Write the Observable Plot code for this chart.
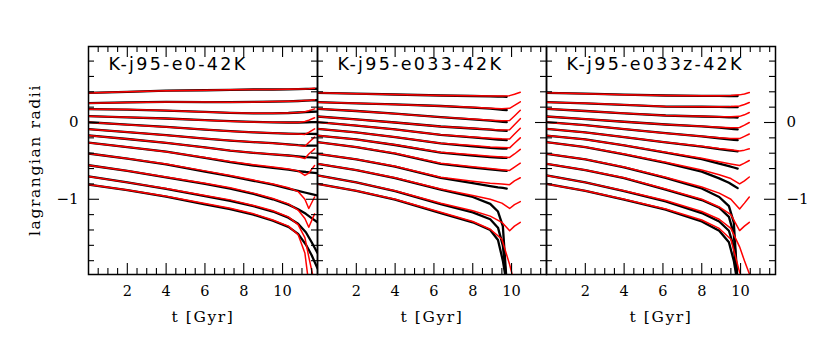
<!DOCTYPE html>
<html><head><meta charset="utf-8">
<script src="https://cdn.jsdelivr.net/npm/d3@7"></script>
<script src="https://cdn.jsdelivr.net/npm/@observablehq/plot@0.6"></script>
<style>
body{margin:0;background:#fff;}
#chart{position:relative;width:817px;height:362px;background:#fff;overflow:hidden;}
#chart svg{position:absolute;left:0;top:0;}
g[font-size="17.5"] text{letter-spacing:2.3px;}
g[font-size="15.5"] text{letter-spacing:1.6px;}
</style></head><body><div id="chart"></div>
<script>
// ---- text ----
const titles = ["K-j95-e0-42K", "K-j95-e033-42K", "K-j95-e033z-42K"];
const xTickLabels = [2, 4, 6, 8, 10];
const yTickLabels = [0, -1];
const xLabel = "t [Gyr]";
const yLabel = "lagrangian radii";

// ---- panel 1 : K-j95-e0-42K (log r) ----
const tBlack1 = [0, 2, 4, 6, 7.3, 8.5, 9.5, 10.3, 10.8, 11.2, 11.5, 11.8];
const black1 = [
  [0.385, 0.40, 0.415, 0.42, 0.426, 0.43, 0.43, 0.432, 0.435, 0.437, 0.438, 0.44],
  [0.252, 0.262, 0.268, 0.266, 0.265, 0.268, 0.272, 0.276, 0.28, 0.284, 0.287, 0.29],
  [0.173, 0.168, 0.155, 0.138, 0.126, 0.12, 0.12, 0.124, 0.13, 0.135, 0.14, 0.143],
  [0.082, 0.068, 0.052, 0.03, 0.017, 0.008, 0.002, 0.0, 0.0, 0.002, 0.004, 0.006],
  [0.003, -0.028, -0.058, -0.092, -0.113, -0.128, -0.138, -0.145, -0.148, -0.148, -0.148, -0.15],
  [-0.087, -0.125, -0.165, -0.21, -0.235, -0.255, -0.27, -0.285, -0.295, -0.3, -0.3, -0.3],
  [-0.169, -0.215, -0.265, -0.325, -0.365, -0.395, -0.415, -0.43, -0.44, -0.45, -0.455, -0.46],
  [-0.263, -0.32, -0.38, -0.46, -0.515, -0.56, -0.59, -0.615, -0.632, -0.645, -0.652, -0.66],
  [-0.404, -0.47, -0.545, -0.64, -0.7, -0.76, -0.81, -0.86, -0.89, -0.915, -0.932, -0.95],
  [-0.557, -0.63, -0.715, -0.8, -0.862, -0.93, -1.0, -1.07, -1.13, -1.19, -1.245, -1.30],
  [-0.702, -0.78, -0.865, -0.96, -1.02, -1.09, -1.16, -1.24, -1.32, -1.43, -1.56, -1.70],
  [-0.808, -0.88, -0.965, -1.065, -1.128, -1.2, -1.28, -1.36, -1.45, -1.59, -1.73, -1.90]
];
const tRed1 = [0, 2, 4, 6, 7.3, 8.5, 9.5, 10.3, 10.8, 11.15, 11.35, 11.65];
const red1 = [
  [0.385, 0.40, 0.415, 0.42, 0.426, 0.43, 0.43, 0.433, 0.436, 0.438, 0.44, 0.445],
  [0.252, 0.262, 0.268, 0.266, 0.265, 0.268, 0.272, 0.277, 0.281, 0.285, 0.288, 0.295],
  [0.173, 0.168, 0.155, 0.138, 0.126, 0.12, 0.12, 0.125, 0.13, 0.14, 0.152, 0.178],
  [0.082, 0.068, 0.052, 0.03, 0.017, 0.008, 0.002, 0.0, 0.0, 0.012, 0.03, 0.061],
  [0.003, -0.028, -0.058, -0.092, -0.113, -0.128, -0.138, -0.145, -0.15, -0.155, -0.13, -0.083],
  [-0.087, -0.125, -0.165, -0.21, -0.235, -0.255, -0.27, -0.285, -0.298, -0.31, -0.26, -0.19],
  [-0.169, -0.215, -0.265, -0.325, -0.365, -0.395, -0.415, -0.43, -0.445, -0.47, -0.41, -0.343],
  [-0.263, -0.32, -0.38, -0.455, -0.508, -0.55, -0.58, -0.605, -0.63, -0.69, -0.66, -0.56],
  [-0.404, -0.47, -0.54, -0.63, -0.691, -0.75, -0.8, -0.85, -0.9, -1.0, -1.12, -0.97],
  [-0.557, -0.63, -0.71, -0.79, -0.851, -0.92, -0.99, -1.06, -1.14, -1.25, -1.365, -1.19],
  [-0.702, -0.78, -0.86, -0.95, -1.008, -1.08, -1.15, -1.23, -1.33, -1.5, -1.75, -2.1],
  [-0.808, -0.88, -0.96, -1.055, -1.117, -1.19, -1.27, -1.35, -1.46, -1.7, -2.1, -2.2]
];

// ---- panel 2 : K-j95-e033-42K ----
const tBlack2 = [0, 2, 4, 6.35, 8, 8.9, 9.3, 9.55, 9.75];
const black2 = [
  [0.387, 0.375, 0.365, 0.352, 0.345, 0.34, 0.338, 0.336, 0.335],
  [0.265, 0.25, 0.235, 0.215, 0.195, 0.18, 0.172, 0.166, 0.16],
  [0.178, 0.15, 0.115, 0.07, 0.042, 0.025, 0.016, 0.009, 0.004],
  [0.078, 0.04, 0.0, -0.052, -0.078, -0.094, -0.102, -0.107, -0.11],
  [0.004, -0.04, -0.09, -0.161, -0.195, -0.213, -0.222, -0.227, -0.23],
  [-0.082, -0.13, -0.19, -0.272, -0.31, -0.33, -0.336, -0.339, -0.34],
  [-0.17, -0.22, -0.293, -0.393, -0.432, -0.45, -0.456, -0.459, -0.46],
  [-0.257, -0.32, -0.405, -0.538, -0.588, -0.61, -0.62, -0.626, -0.63],
  [-0.408, -0.48, -0.575, -0.722, -0.79, -0.828, -0.845, -0.853, -0.86],
  [-0.538, -0.62, -0.725, -0.875, -0.97, -1.06, -1.16, -1.35, -2.1],
  [-0.69, -0.78, -0.895, -1.062, -1.17, -1.26, -1.37, -1.6, -2.1],
  [-0.80, -0.89, -1.005, -1.18, -1.3, -1.4, -1.53, -1.8, -2.1]
];
const tRed2 = [0, 2, 4, 6.35, 8, 8.9, 9.5, 9.9, 10.15, 10.45];
const red2 = [
  [0.387, 0.375, 0.365, 0.352, 0.347, 0.345, 0.345, 0.35, 0.368, 0.395],
  [0.265, 0.25, 0.235, 0.215, 0.198, 0.187, 0.18, 0.185, 0.222, 0.27],
  [0.178, 0.15, 0.115, 0.07, 0.045, 0.03, 0.022, 0.025, 0.085, 0.16],
  [0.078, 0.04, 0.0, -0.052, -0.075, -0.09, -0.097, -0.095, -0.03, 0.05],
  [0.004, -0.04, -0.09, -0.161, -0.19, -0.205, -0.213, -0.215, -0.15, -0.075],
  [-0.082, -0.13, -0.19, -0.269, -0.3, -0.318, -0.326, -0.33, -0.27, -0.2],
  [-0.17, -0.22, -0.29, -0.387, -0.42, -0.44, -0.45, -0.455, -0.41, -0.35],
  [-0.257, -0.32, -0.40, -0.53, -0.575, -0.6, -0.615, -0.625, -0.58, -0.53],
  [-0.408, -0.48, -0.57, -0.713, -0.765, -0.79, -0.8, -0.81, -0.76, -0.72],
  [-0.538, -0.62, -0.72, -0.865, -0.95, -1.0, -1.05, -1.12, -1.07, -1.03],
  [-0.69, -0.78, -0.89, -1.052, -1.15, -1.22, -1.3, -1.41, -1.35, -1.30],
  [-0.80, -0.89, -1.0, -1.17, -1.29, -1.39, -1.52, -1.85, -2.1, -2.2]
];

// ---- panel 3 : K-j95-e033z-42K ----
const tBlack3 = [0, 2, 4, 6.14, 8, 8.9, 9.4, 9.65, 9.85];
const black3 = [
  [0.387, 0.375, 0.362, 0.352, 0.348, 0.346, 0.345, 0.345, 0.345],
  [0.265, 0.25, 0.23, 0.208, 0.205, 0.203, 0.202, 0.201, 0.2],
  [0.178, 0.15, 0.12, 0.091, 0.078, 0.072, 0.068, 0.066, 0.065],
  [0.078, 0.045, 0.01, -0.026, -0.05, -0.068, -0.078, -0.085, -0.09],
  [0.004, -0.035, -0.085, -0.139, -0.18, -0.205, -0.218, -0.225, -0.23],
  [-0.082, -0.13, -0.19, -0.258, -0.315, -0.348, -0.362, -0.37, -0.375],
  [-0.17, -0.22, -0.298, -0.393, -0.478, -0.535, -0.567, -0.586, -0.6],
  [-0.257, -0.32, -0.415, -0.525, -0.64, -0.728, -0.785, -0.823, -0.855],
  [-0.408, -0.48, -0.585, -0.722, -0.86, -0.97, -1.09, -1.3, -2.1],
  [-0.538, -0.62, -0.725, -0.875, -1.01, -1.11, -1.23, -1.45, -2.1],
  [-0.69, -0.78, -0.895, -1.027, -1.18, -1.29, -1.41, -1.62, -2.1],
  [-0.80, -0.89, -1.005, -1.136, -1.29, -1.41, -1.56, -1.8, -2.1]
];
const tRed3 = [0, 2, 4, 6.14, 8, 8.9, 9.5, 9.95, 10.2, 10.45];
const red3 = [
  [0.387, 0.375, 0.362, 0.352, 0.35, 0.35, 0.352, 0.36, 0.372, 0.39],
  [0.265, 0.25, 0.23, 0.208, 0.205, 0.205, 0.207, 0.215, 0.235, 0.26],
  [0.178, 0.15, 0.12, 0.091, 0.08, 0.075, 0.075, 0.08, 0.1, 0.13],
  [0.078, 0.045, 0.01, -0.026, -0.05, -0.062, -0.068, -0.065, -0.035, 0.0],
  [0.004, -0.035, -0.085, -0.139, -0.18, -0.2, -0.21, -0.21, -0.18, -0.15],
  [-0.082, -0.13, -0.19, -0.256, -0.31, -0.34, -0.355, -0.37, -0.36, -0.343],
  [-0.17, -0.22, -0.295, -0.387, -0.465, -0.51, -0.54, -0.56, -0.53, -0.495],
  [-0.257, -0.32, -0.41, -0.517, -0.62, -0.68, -0.73, -0.8, -0.76, -0.71],
  [-0.408, -0.48, -0.58, -0.713, -0.84, -0.92, -1.0, -1.126, -1.05, -0.97],
  [-0.538, -0.62, -0.72, -0.865, -1.0, -1.1, -1.2, -1.408, -1.35, -1.30],
  [-0.69, -0.78, -0.89, -1.017, -1.16, -1.26, -1.38, -1.62, -1.8, -1.97],
  [-0.80, -0.89, -1.0, -1.126, -1.27, -1.38, -1.52, -1.95, -2.1, -2.2]
];

const panels = [
  {title: titles[0], tB: tBlack1, B: black1, tR: tRed1, Rd: red1},
  {title: titles[1], tB: tBlack2, B: black2, tR: tRed2, Rd: red2},
  {title: titles[2], tB: tBlack3, B: black3, tR: tRed3, Rd: red3}
];

// ---- layout ----
const W = 817, H = 362, mTop = 46, mBottom = 88;
const lefts = [88, 317, 546], rights = [317, 546, 775];
const frameH = H - mTop - mBottom;
const xDomain = [0, 11.8], yDomain = [-1.98, 0.99];

const xMinor = d3.range(0.5, 11.8, 0.5).filter(v => v % 2 !== 0);
const xMajor = [2, 4, 6, 8, 10];
const yMinor = d3.range(-18, 10, 2).map(v => v / 10).filter(v => Math.abs(v - Math.round(v)) > 1e-9);
const yMajor = [-1, 0];

function toRows(times, series) {
  return series.flatMap((vals, i) => vals.map((v, j) => ({t: times[j], v, row: i})));
}
const fmtY = d => (d < 0 ? "\u2212" + Math.abs(d) : String(d));

const chart = document.getElementById("chart");
panels.forEach((p, k) => {
  const L = lefts[k], R = rights[k];
  const fw = R - L;
  const marks = [
    Plot.line(toRows(p.tB, p.B), {x: "t", y: "v", z: "row", stroke: "#000", strokeWidth: 2.3, clip: true}),
    Plot.line(toRows(p.tR, p.Rd), {x: "t", y: "v", z: "row", stroke: "#ff0000", strokeWidth: 1.5, clip: true}),
    // x ticks, bottom and top
    Plot.tickX(xMinor, {x: d => d, insetTop: frameH - 6, stroke: "#000", strokeWidth: 1.1}),
    Plot.tickX(xMajor, {x: d => d, insetTop: frameH - 11, stroke: "#000", strokeWidth: 1.1}),
    Plot.tickX(xMinor, {x: d => d, insetBottom: frameH - 6, stroke: "#000", strokeWidth: 1.1}),
    Plot.tickX(xMajor, {x: d => d, insetBottom: frameH - 11, stroke: "#000", strokeWidth: 1.1}),
    // y ticks, left and right
    Plot.tickY(yMinor, {y: d => d, insetRight: fw - 6, stroke: "#000", strokeWidth: 1.1}),
    Plot.tickY(yMajor, {y: d => d, insetRight: fw - 11, stroke: "#000", strokeWidth: 1.1}),
    Plot.tickY(yMinor, {y: d => d, insetLeft: fw - 6, stroke: "#000", strokeWidth: 1.1}),
    Plot.tickY(yMajor, {y: d => d, insetLeft: fw - 11, stroke: "#000", strokeWidth: 1.1}),
    Plot.frame({stroke: "#000", strokeWidth: 1.5}),
    Plot.text([p.title], {text: d => d, frameAnchor: "top-left", textAnchor: "start", lineAnchor: "middle",
      dx: 20, dy: 17.5, fontFamily: "DejaVu Sans", fontSize: 17.5, fill: "#000"}),
    Plot.text(xTickLabels, {x: d => d, text: d => String(d), frameAnchor: "bottom", lineAnchor: "middle",
      dy: 17, fontFamily: "DejaVu Serif", fontSize: 14.5, fill: "#000"}),
    Plot.text([xLabel], {text: d => d, frameAnchor: "bottom", lineAnchor: "middle",
      dy: 43, fontFamily: "DejaVu Serif", fontSize: 15.5, fill: "#000"})
  ];
  if (k === 0) {
    marks.push(
      Plot.text(yTickLabels, {y: d => d, text: fmtY, frameAnchor: "left",
        textAnchor: "end", lineAnchor: "middle", dx: -10, fontFamily: "DejaVu Serif", fontSize: 15, fill: "#000"})
    );
  }
  if (k === 2) {
    marks.push(
      Plot.text(yTickLabels, {y: d => d, text: fmtY, frameAnchor: "right",
        textAnchor: "start", lineAnchor: "middle", dx: 11, fontFamily: "DejaVu Serif", fontSize: 15, fill: "#000"})
    );
  }
  const svg = Plot.plot({
    width: W, height: H,
    marginTop: mTop, marginBottom: mBottom, marginLeft: L, marginRight: W - R,
    x: {domain: xDomain, axis: null},
    y: {domain: yDomain, axis: null},
    style: {background: "transparent", overflow: "visible"},
    marks
  });
  if (k === 0) {
    d3.select(svg).append("text")
      .attr("transform", `translate(35,${mTop + frameH / 2}) rotate(-90)`)
      .attr("text-anchor", "middle")
      .attr("dominant-baseline", "central")
      .attr("font-family", "DejaVu Serif")
      .attr("font-size", 15.5)
      .attr("letter-spacing", "1.6px")
      .attr("fill", "#000")
      .text(yLabel);
  }
  chart.appendChild(svg);
});
</script></body></html>
